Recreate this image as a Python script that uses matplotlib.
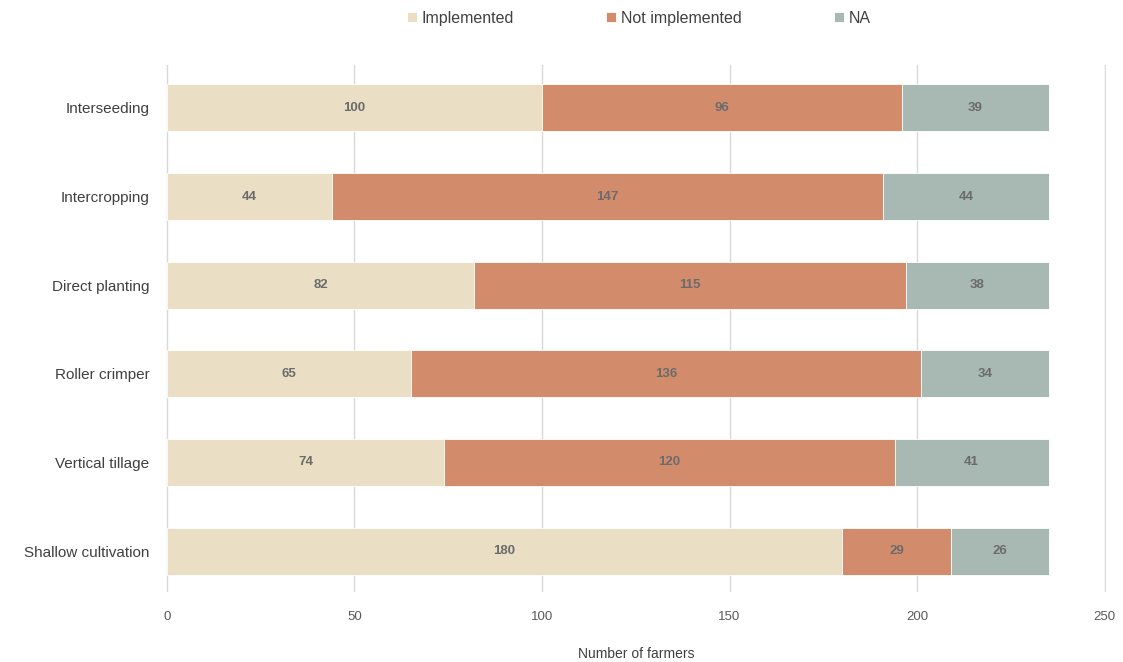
import matplotlib.pyplot as plt
import numpy as np

plt.rcParams['font.family'] = ['Liberation Sans', 'DejaVu Sans']

practices = ['Interseeding', 'Intercropping', 'Direct planting', 'Roller crimper',
             'Vertical tillage', 'Shallow cultivation']
implemented = [100, 44, 82, 65, 74, 180]
not_implemented = [96, 147, 115, 136, 120, 29]
na = [39, 44, 38, 34, 41, 26]

series = [('Implemented', implemented, '#EADFC4'),
          ('Not implemented', not_implemented, '#D38C6B'),
          ('NA', na, '#A8B8B2')]

fig = plt.figure(figsize=(11.23, 6.62), dpi=100)
ax = fig.add_axes([0.1478, 0.106, 0.837, 0.796])

pos = np.arange(len(practices))
left = np.zeros(len(practices))
for name, vals, color in series:
    vals = np.array(vals)
    bars = ax.barh(pos, vals, left=left, height=0.53, color=color, label=name,
                   edgecolor='white', linewidth=0.6, zorder=3)
    for b, v in zip(bars, vals):
        ax.text(b.get_x() + b.get_width() / 2, b.get_y() + b.get_height() / 2, str(v),
                ha='center', va='center', fontsize=9.5, fontweight='bold',
                color='#6b6b6b', zorder=4)
    left += vals

ax.set_xlim(-0.2, 250.3)
ax.set_ylim(5.46, -0.485)
ax.set_xticks(np.arange(0, 251, 50))
ax.set_yticks(pos, practices)
ax.grid(axis='x', color='#d9d9d9', linewidth=1, zorder=0)
for s in ax.spines.values():
    s.set_visible(False)
ax.tick_params(axis='both', length=0, colors='#595959')
ax.tick_params(axis='y', labelsize=11, pad=12, labelcolor='#404040')
ax.tick_params(axis='x', labelsize=9.5, pad=14)
ax.set_xlabel('Number of farmers', fontsize=10, color='#404040', labelpad=17)

ax.legend(loc='upper center', bbox_to_anchor=(0.503, 1.13), ncol=3, frameon=False,
          fontsize=11.5, handlelength=0.6, handleheight=0.6, columnspacing=5.8,
          handletextpad=0.3, labelcolor='#404040')

fig.savefig('out.png', dpi=100)
